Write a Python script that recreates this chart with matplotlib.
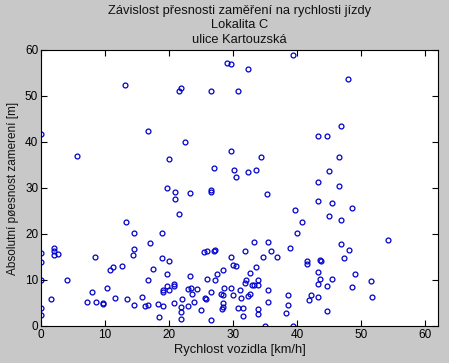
import matplotlib
matplotlib.use("Agg")
import matplotlib.pyplot as plt

plt.rcParams['font.family'] = ['Liberation Sans', 'DejaVu Sans']

# ---- data ----
rychlost = [
    13.1, 0.0, 5.7, 16.7, 20.0, 19.6, 39.4, 29.0, 29.6, 32.3,
    21.8, 21.6, 26.6, 30.8, 22.5, 29.6, 34.4, 27.0, 30.2, 30.5,
    32.3, 33.5, 26.6, 26.6, 47.9, 46.8, 43.2, 44.6, 46.6, 45.0,
    43.2, 46.5, 13.2, 14.6, 0.0, 2.1, 2.1, 2.1, 2.7, 0.0,
    8.4, 14.6, 14.4, 17.0, 18.9, 18.9, 20.0, 12.7, 11.3, 10.8,
    17.5, 19.6, 0.0, 4.0, 16.7, 8.0, 10.3, 19.0, 19.1, 19.6,
    20.0, 1.6, 11.5, 13.4, 15.8, 7.2, 8.6, 9.7, 9.7, 14.6,
    16.3, 16.7, 18.3, 19.1, 0.0, 0.0, 18.5, 21.0, 21.0, 23.2,
    35.3, 21.5, 39.6, 40.0, 33.3, 35.4, 38.9, 25.4, 25.9, 27.2,
    27.0, 31.9, 35.9, 36.8, 34.7, 29.6, 30.0, 30.4, 33.5, 28.5,
    32.7, 27.5, 23.2, 26.0, 33.9, 32.0, 27.2, 31.9, 32.9, 33.3,
    33.9, 20.8, 20.8, 22.9, 23.5, 24.4, 26.6, 28.6, 29.6, 31.0,
    35.4, 38.6, 23.6, 28.1, 28.5, 30.0, 32.7, 32.3, 31.3, 22.0,
    25.6, 25.8, 23.9, 35.4, 20.8, 22.9, 21.8, 21.8, 28.5, 28.5,
    28.3, 25.0, 30.8, 31.6, 33.9, 33.9, 38.6, 38.2, 31.5, 21.8,
    26.6, 35.0, 39.4, 43.3, 45.4, 48.5, 45.0, 46.8, 40.8, 54.2,
    46.8, 48.1, 47.3, 41.6, 41.6, 43.5, 43.8, 43.2, 49.0, 43.6,
    45.5, 51.6, 43.2, 44.7, 48.6, 42.2, 41.8, 43.2, 51.7, 44.7,
]
presnost = [
    52.4, 41.7, 37.0, 42.4, 36.4, 30.1, 58.9, 57.1, 56.9, 55.8,
    51.8, 51.0, 51.0, 51.0, 40.0, 38.0, 36.8, 34.3, 33.9, 32.5,
    33.4, 33.9, 29.6, 29.2, 53.8, 43.5, 41.2, 41.4, 36.8, 33.6,
    31.4, 30.4, 22.7, 20.2, 15.9, 16.9, 16.4, 15.4, 15.7, 14.0,
    15.1, 16.7, 15.4, 18.1, 20.3, 14.7, 14.1, 13.0, 12.8, 12.2,
    12.5, 11.3, 10.1, 10.0, 10.0, 7.5, 8.2, 7.5, 7.8, 8.8,
    7.8, 5.9, 6.0, 5.9, 6.4, 5.2, 5.2, 4.9, 4.8, 4.6,
    4.4, 4.6, 4.8, 4.3, 3.9, 2.5, 2.0, 29.1, 27.7, 28.9,
    28.6, 24.3, 25.3, 20.2, 18.3, 18.2, 16.9, 16.0, 16.4, 16.5,
    16.3, 16.2, 16.2, 15.1, 14.9, 14.9, 13.2, 13.0, 12.8, 12.1,
    11.5, 11.2, 10.8, 10.3, 10.1, 10.1, 9.9, 9.3, 9.0, 9.0,
    9.0, 9.1, 8.8, 8.0, 8.2, 8.0, 7.5, 8.2, 8.2, 7.8,
    7.8, 6.7, 6.9, 7.0, 6.7, 6.7, 6.9, 6.5, 6.1, 5.9,
    6.0, 5.9, 5.3, 5.3, 5.1, 4.3, 4.1, 3.0, 5.0, 4.1,
    3.8, 3.5, 3.9, 3.9, 3.7, 2.7, 4.6, 2.8, 2.2, 1.5,
    1.2, 0.0, 0.0, 27.1, 26.7, 25.7, 23.9, 23.1, 22.7, 18.8,
    17.8, 16.5, 14.7, 14.1, 13.5, 14.3, 14.2, 11.8, 11.2, 10.2,
    10.2, 9.7, 9.2, 8.7, 8.4, 6.7, 5.7, 6.2, 6.2, 3.2,
]

TITLE = "Závislost přesnosti zaměření na rychlosti jízdy\nLokalita C\nulice Kartouzská"
XLABEL = "Rychlost vozidla [km/h]"
YLABEL = "Absolutní pøesnost zamerení [m]"
XTICKS = [0, 10, 20, 30, 40, 50, 60]
YTICKS = [0, 10, 20, 30, 40, 50, 60]

# ---- figure (MATLAB look) ----
fig = plt.figure(figsize=(4.49, 3.63), dpi=100, facecolor='#c8c8c8')
ax = fig.add_axes([41 / 449, 37 / 363, 397 / 449, 276 / 363])
ax.set_facecolor('white')

ax.plot(rychlost, presnost, linestyle='none', marker='o', markersize=3.5,
        markerfacecolor='none', markeredgecolor='#0000cc', markeredgewidth=0.9)

ax.set_xlim(0, 62)
ax.set_ylim(0, 60)
ax.set_xticks(XTICKS)
ax.set_yticks(YTICKS)
ax.tick_params(direction='in', top=True, right=True, length=4, width=0.8,
               labelsize=8.5, pad=2, colors='black')
for s in ax.spines.values():
    s.set_linewidth(0.8)

ax.set_title(TITLE, fontsize=9.3, pad=5, linespacing=1.3, color='#111111')
ax.set_xlabel(XLABEL, fontsize=9.3, labelpad=2, color='#111111')
ax.set_ylabel(YLABEL, fontsize=8.5, labelpad=4, color='#111111')

fig.savefig("out.png", dpi=100, facecolor=fig.get_facecolor())
